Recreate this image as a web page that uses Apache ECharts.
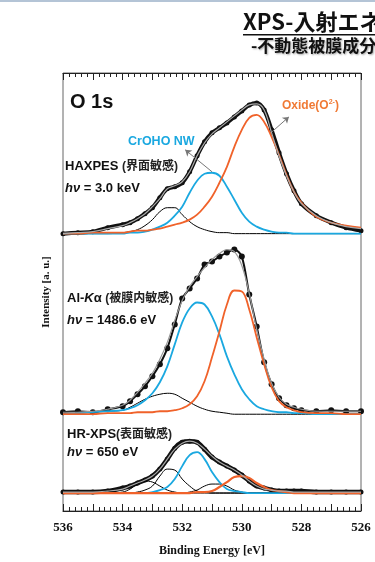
<!DOCTYPE html>
<html>
<head>
<meta charset="utf-8">
<script src="https://cdn.jsdelivr.net/npm/echarts@6/dist/echarts.min.js"></script>
<style>
  html, body { margin: 0; padding: 0; background: #fff; }
  #main { width: 375px; height: 562px; }
</style>
</head>
<body>
<div id="main"></div>
<script>
// binding energy grid (eV), shared by every curve
var energy = [536,535.5,535,534.5,534,533.75,533.5,533.25,533,532.75,532.5,532.25,532,531.75,531.5,531.25,531,530.75,530.5,530.25,530,529.75,529.5,529.25,529,528.75,528.5,528.25,528,527.5,527,526.5,526];
var xTicks = [536,534,532,530,528,526];

// vertical offsets of the three stacked spectra
var offsets = { hax: 278, al: 97, hr: 18 };

// HAXPES hv = 3.0 keV
var haxData   = [0,1,2,6,9,11,15,20,26,36,45,47,51,62,78,92,101,106,111,117,123,129,131,124,104,81,60,43,30,18,11,6,3];
var haxFit    = [0,1,2,5,8,11,15,20,27,35,45,48,52,62,78,91,100,106,112,118,124,129,130,124,101,78,58,42,30,18,11,7,5];
var haxOxide  = [0,0,1,1,1,2,3,3,4,5,7,9,11,14,19,27,37,51,67,87,104,116,119,112,97,79,59,42,31,17,11,8,6];
var haxCrOHO  = [0,0,0,0,0,1,1,2,4,7,11,18,27,41,53,60,61,58,47,34,21,12,7,4,2,1,1,0,0,0,0,0,0];
var haxOther  = [0,0,0,0,1,2,4,8,14,22,26,26,19,12,7,4,2,1,1,0,0,0,0,0,0,0,0,0,0,0,0,0,0];

// Al-Ka hv = 1486.6 eV
var alData    = [2,3,2,5,8,13,20,28,38,50,66,90,116,126,136,150,153,158,162,165,158,120,88,52,30,16,9,6,4,3,4,3,3];
var alFit     = [2,2,3,5,9,14,22,31,41,55,72,94,114,128,138,147,155,161,165,163,149,121,85,55,31,17,10,7,5,3,3,3,3];
var alOxide   = [0,0,0,1,1,1,2,2,2,3,3,4,6,10,18,33,57,83,110,124,123,105,77,50,27,13,7,4,2,1,1,0,0];
var alCrOHO   = [0,1,2,3,4,6,9,14,21,32,48,70,92,106,112,110,98,80,58,40,25,15,8,5,3,2,2,1,1,0,0,0,0];
var alOther   = [0,1,2,3,4,7,11,15,18,20,21,20,16,12,8,5,3,2,1,0,0,0,0,0,0,0,0,0,0,0,0,0,0];

// HR-XPS hv = 650 eV
var hrData    = [1,1,1,2,5,7,10,13,17,24,34,45,51,52,51,44,36,31,27,23,18,12,7,5,3,2,2,2,2,1,1,1,1];
var hrFit     = [1,1,1,2,4,7,10,13,17,24,34,44,50,52,50,44,37,31,27,23,18,12,7,4,3,2,2,1,1,1,1,1,1];
var hrOxide   = [0,0,0,0,0,0,0,0,0,0,0,0,0,0,1,1,2,6,11,16,17,15,10,6,3,2,1,0,0,0,0,0,0];
var hrCrOHO   = [0,0,0,0,0,0,0,0,1,3,6,14,27,38,41,34,21,11,4,2,1,0,0,0,0,0,0,0,0,0,0,0,0];
var hrOther1  = [0,0,0,0,0,0,1,3,7,17,24,23,14,7,2,1,0,0,0,0,0,0,0,0,0,0,0,0,0,0,0,0,0];
var hrOther2  = [0,0,0,0,1,4,9,12,11,7,3,1,0,0,0,0,0,0,0,0,0,0,0,0,0,0,0,0,0,0,0,0,0];
var hrOther3  = [0,0,0,0,0,0,0,0,0,0,0,0,0,1,3,7,9,9,7,3,1,0,0,0,0,0,0,0,0,0,0,0,0];

var ORANGE = '#f0622a';
var BLUE = '#1aa8e0';
var SANS = '"Liberation Sans", "Noto Sans CJK JP", sans-serif';
var SERIF = '"Liberation Serif", "DejaVu Serif", serif';

function pts(vals, off) {
  return energy.map(function (e, i) { return [e, vals[i] + off]; });
}

// measured points: dark band with dots
function dataSeries(vals, off, w, size) {
  return {
    type: 'line', smooth: 0.3, data: pts(vals, off), z: 2,
    lineStyle: { color: '#111', width: w },
    symbol: 'circle', symbolSize: size, showSymbol: true,
    itemStyle: { color: '#111' }
  };
}
function curve(vals, off, color, w, z) {
  return {
    type: 'line', smooth: 0.4, data: pts(vals, off), z: z,
    lineStyle: { color: color, width: w }, symbol: 'none'
  };
}

function tickAxis(pos) {
  return {
    type: 'value', position: pos, min: 526, max: 536, interval: 1, inverse: true,
    axisLine: { show: true, lineStyle: { color: '#222', width: 1 } },
    axisTick: { show: true, inside: true, length: 7, lineStyle: { color: '#222' } },
    minorTick: { show: true, splitNumber: 5, length: 4, lineStyle: { color: '#222' } },
    splitLine: { show: false },
    axisLabel: pos === 'bottom' ? {
      margin: 10, fontFamily: SERIF, fontWeight: 'bold', fontSize: 13, color: '#111',
      formatter: function (v) { return xTicks.indexOf(v) >= 0 ? String(v) : ''; }
    } : { show: false },
    name: pos === 'bottom' ? 'Binding Energy [eV]' : '',
    nameLocation: 'middle', nameGap: 34,
    nameTextStyle: { fontFamily: SERIF, fontWeight: 'bold', fontSize: 12, color: '#111' }
  };
}

function label(x, y, text, rich) {
  return { type: 'text', left: x, top: y, silent: true, z: 10,
    style: { text: text, rich: rich, fill: '#111' } };
}

var r = {
  b: { fontFamily: SANS, fontWeight: 'bold', fontSize: 13, fill: '#111' },
  i: { fontFamily: SANS, fontWeight: 'bold', fontStyle: 'italic', fontSize: 13, fill: '#111' },
  j: { fontFamily: SANS, fontWeight: 'bold', fontSize: 12, fill: '#222' },
  big: { fontFamily: SANS, fontWeight: 'bold', fontSize: 20, fill: '#111' },
  o: { fontFamily: SANS, fontWeight: 'bold', fontSize: 12, fill: '#f07a35', lineHeight: 14 },
  sup: { fontFamily: SANS, fontWeight: 'bold', fontSize: 7, fill: '#f07a35', verticalAlign: 'top', lineHeight: 14, padding: [0, 0, 5, 0] },
  c: { fontFamily: SANS, fontWeight: 'bold', fontSize: 12.5, fill: BLUE }
};

var arrowLine = { color: '#777', width: 1, type: 'solid' };

var chart = echarts.init(document.getElementById('main'));
chart.setOption({
  animation: false,
  backgroundColor: '#fff',
  grid: { left: 63, right: 14, top: 73, bottom: 50, show: true, borderColor: '#666', borderWidth: 1 },
  xAxis: [tickAxis('bottom'), tickAxis('top')],
  yAxis: {
    type: 'value', min: 0, max: 439, axisLine: { show: false }, axisTick: { show: false },
    axisLabel: { show: false }, splitLine: { show: false },
    name: 'Intensity [a. u.]', nameLocation: 'middle', nameGap: 11, nameRotate: 90,
    nameTextStyle: { fontFamily: SERIF, fontWeight: 'bold', fontSize: 11, color: '#111' }
  },
  series: [
    dataSeries(haxData, offsets.hax, 4, 5),
    curve(haxOther, offsets.hax, '#000', 1, 3),
    curve(haxCrOHO, offsets.hax, BLUE, 1.8, 4),
    Object.assign(curve(haxOxide, offsets.hax, ORANGE, 1.8, 5), {
      markLine: { silent: true, symbol: ['none', 'arrow'], symbolSize: 6, label: { show: false }, lineStyle: arrowLine,
        data: [[{ coord: [528.99, 380] }, { coord: [528.42, 395] }]] }
    }),
    Object.assign(curve(haxFit, offsets.hax, '#aaa', 1.2, 6), {
      markLine: { silent: true, symbol: ['none', 'arrow'], symbolSize: 6, label: { show: false }, lineStyle: arrowLine,
        data: [[{ coord: [531.0, 340] }, { coord: [531.9, 362] }]] }
    }),

    dataSeries(alData, offsets.al, 2, 6),
    curve(alOther, offsets.al, '#000', 1, 3),
    curve(alCrOHO, offsets.al, BLUE, 1.8, 4),
    curve(alOxide, offsets.al, ORANGE, 1.8, 5),
    curve(alFit, offsets.al, '#999', 1.2, 6),

    dataSeries(hrData, offsets.hr, 4.5, 5),
    curve(hrOther1, offsets.hr, '#000', 1, 3),
    curve(hrOther2, offsets.hr, '#000', 1, 3),
    curve(hrOther3, offsets.hr, '#000', 1, 3),
    curve(hrCrOHO, offsets.hr, BLUE, 1.8, 4),
    curve(hrOxide, offsets.hr, ORANGE, 2.2, 5),
    curve(hrFit, offsets.hr, '#aaa', 1.2, 6)
  ],
  graphic: [
    { type: 'rect', left: 0, top: 0, shape: { width: 375, height: 2 }, style: { fill: '#b4c4d6' }, silent: true },
    { type: 'text', left: 243, top: 11, silent: true,
      style: { text: 'XPS-入射エネ', fill: '#111', font: 'bold 22px "Noto Sans CJK JP", sans-serif' } },
    { type: 'rect', left: 243, top: 34, shape: { width: 132, height: 1.5 }, style: { fill: '#111' }, silent: true },
    { type: 'text', left: 251, top: 37, silent: true,
      style: { text: '-不動態被膜成分', fill: '#111', font: 'bold 17px "Noto Sans CJK JP", sans-serif',
        textShadowColor: 'rgba(0,0,0,0.35)', textShadowBlur: 2, textShadowOffsetX: 1, textShadowOffsetY: 1 } },

    label(70, 92, '{big|O 1s}', r),
    label(282, 99, '{o|Oxide(O}{sup|2-}{o|)}', r),
    label(128, 135, '{c|CrOHO NW}', r),
    label(65, 160, '{b|HAXPES }{j|(界面敏感)}', r),
    label(65, 182, '{i|hν}{b| = 3.0 keV}', r),
    label(67, 292, '{b|Al-}{i|K}{b|α }{j|(被膜内敏感)}', r),
    label(67, 314, '{i|hν}{b| = 1486.6 eV}', r),
    label(67, 428, '{b|HR-XPS}{j|(表面敏感)}', r),
    label(67, 446, '{i|hν}{b| = 650 eV}', r)
  ]
});
</script>
</body>
</html>
